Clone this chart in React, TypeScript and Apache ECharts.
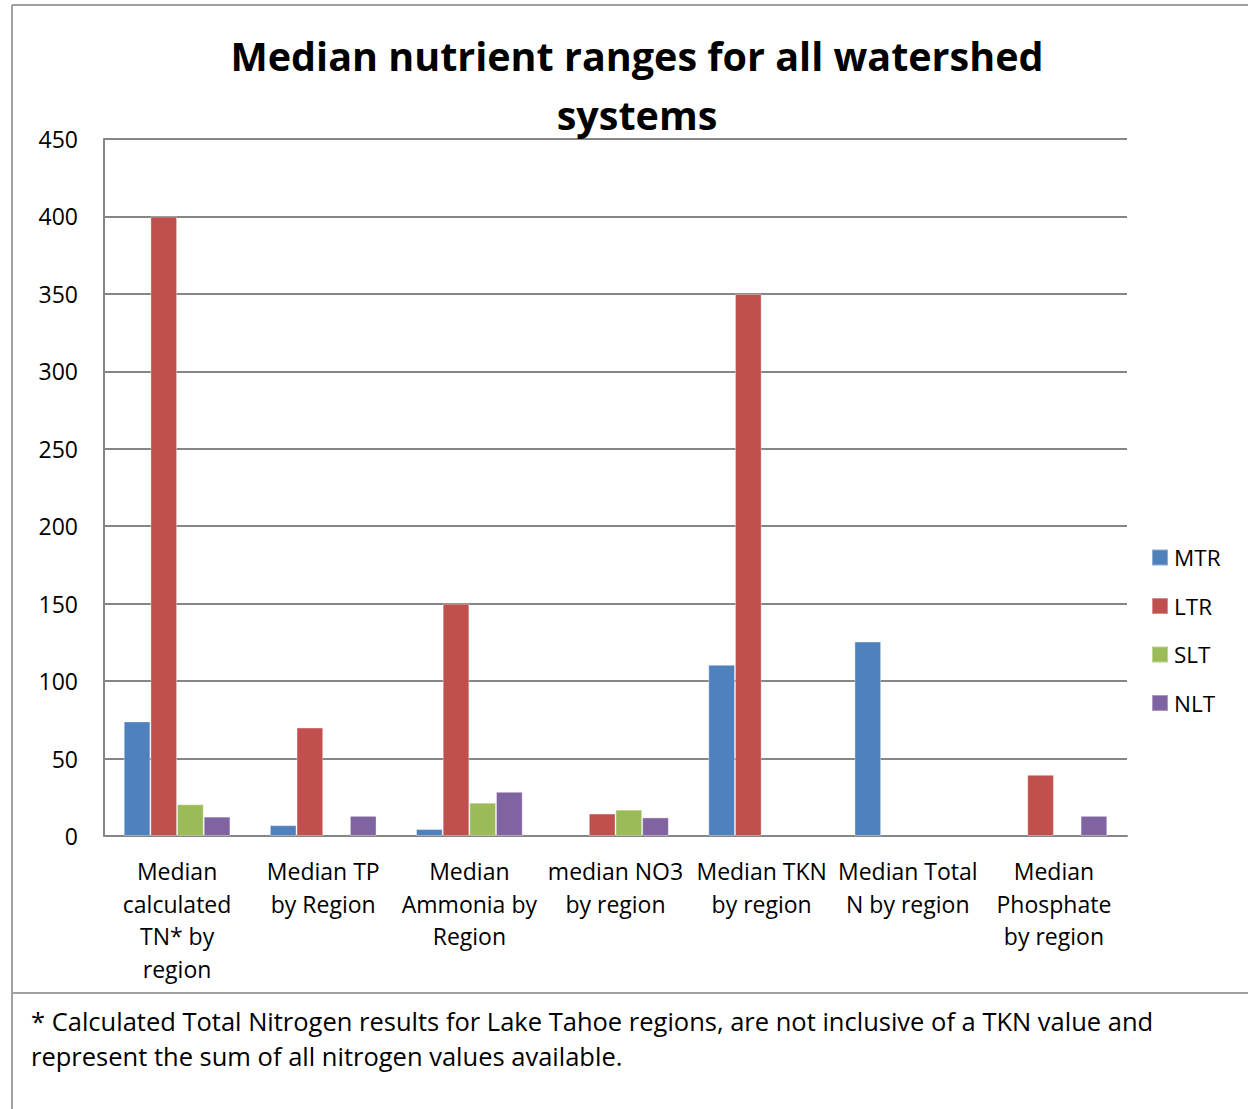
import React, { useEffect, useRef } from "react";
import * as echarts from "echarts";

const categories = [
  "Median\ncalculated\nTN* by\nregion",
  "Median TP\nby Region",
  "Median\nAmmonia by\nRegion",
  "median NO3\nby region",
  "Median TKN\nby region",
  "Median Total\nN by region",
  "Median\nPhosphate\nby region",
];
const seriesNames = ["MTR", "LTR", "SLT", "NLT"];
const mtr = [74, 7, 4.5, null, 110.5, 125.5, null];
const ltr = [400, 70, 150, 14.5, 350, null, 39.5];
const slt = [20.5, null, 21.5, 17, null, null, null];
const nlt = [12.5, 13, 28.5, 12, null, null, 13];
const colors = ["#4F81BD", "#C0504D", "#9BBB59", "#8064A2"];
const yTicks = [0, 50, 100, 150, 200, 250, 300, 350, 400, 450];
const titleText = "Median nutrient ranges for all watershed\nsystems";
const footnote =
  "* Calculated Total Nitrogen results for Lake Tahoe regions, are not inclusive of a TKN value and\nrepresent the sum of all nitrogen values available.";

const FONT = "'Open Sans', Lato, sans-serif";

export default function App() {
  const ref = useRef<HTMLDivElement>(null);
  useEffect(() => {
    const chart = echarts.init(ref.current!, null, { renderer: "svg" });
    const values = [mtr, ltr, slt, nlt];
    chart.setOption({
      animation: false,
      backgroundColor: "#ffffff",
      title: {
        text: titleText,
        left: 632,
        top: 21,
        textAlign: "center",
        textStyle: {
          fontFamily: FONT,
          fontWeight: "bold",
          fontSize: 39.5,
          lineHeight: 59,
          color: "#000",
        },
      },
      legend: {
        orient: "vertical",
        left: 1151,
        top: 546,
        padding: 0,
        itemWidth: 16,
        itemHeight: 16,
        itemGap: 25.5,
        icon: "rect",
        textStyle: { fontFamily: FONT, fontSize: 22.5, lineHeight: 20, color: "#000", padding: [0, 0, 0, 1] },
        data: seriesNames,
      },
      grid: { left: 104, right: 121, top: 139, bottom: 273 },
      xAxis: {
        type: "category",
        data: categories,
        axisLine: { lineStyle: { color: "#868686", width: 2 } },
        axisTick: { show: false },
        axisLabel: {
          interval: 0,
          margin: 19,
          fontFamily: FONT,
          fontSize: 23,
          lineHeight: 32.5,
          color: "#000",
        },
      },
      yAxis: {
        type: "value",
        min: yTicks[0],
        max: yTicks[yTicks.length - 1],
        interval: 50,
        axisLine: { show: true, lineStyle: { color: "#868686", width: 2 } },
        axisTick: { show: false },
        splitLine: { lineStyle: { color: "#868686", width: 2 } },
        axisLabel: { margin: 26, fontFamily: FONT, fontSize: 23, color: "#000" },
      },
      series: seriesNames.map((name, i) => ({
        name,
        type: "bar",
        data: values[i].map((v) => (v === null ? "-" : v)),
        barGap: "0%",
        barCategoryGap: "27%",
        itemStyle: { color: colors[i], borderColor: "rgba(255,255,255,0.35)", borderWidth: 1 },
      })),
      graphic: [
        { type: "line", shape: { x1: 12, y1: 5, x2: 1248, y2: 5 }, style: { stroke: "#a0a0a0", lineWidth: 2 } },
        { type: "line", shape: { x1: 12, y1: 5, x2: 12, y2: 1109 }, style: { stroke: "#a0a0a0", lineWidth: 2 } },
        { type: "line", shape: { x1: 12, y1: 993, x2: 1248, y2: 993 }, style: { stroke: "#a0a0a0", lineWidth: 2 } },
        {
          type: "text",
          left: 31,
          top: 1003,
          style: {
            text: footnote,
            fontFamily: FONT,
            fontSize: 25.5,
            lineHeight: 35,
            fill: "#000",
          },
        },
      ],
    });
    return () => chart.dispose();
  }, []);
  return (
    <div
      ref={ref}
      style={{ position: "absolute", left: 0, top: 0, width: 1248, height: 1109 }}
    />
  );
}
